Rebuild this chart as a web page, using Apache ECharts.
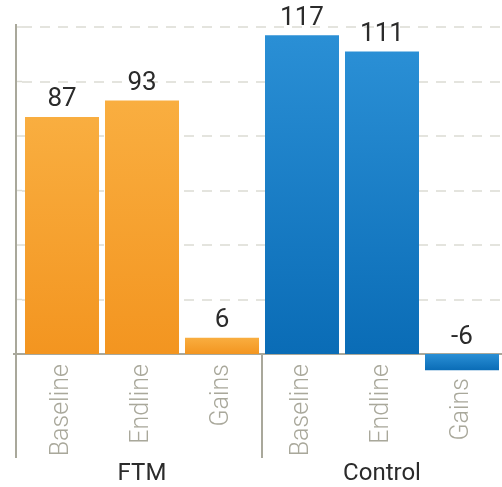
<!DOCTYPE html>
<html><head><meta charset="utf-8">
<script src="https://cdn.jsdelivr.net/npm/echarts@6/dist/echarts.min.js"></script>
<style>html,body{margin:0;padding:0;background:#fff}#c{width:502px;height:487px}</style>
</head><body><div id="c"></div>
<script>
const categories = ['Baseline','Endline','Gains','Baseline','Endline','Gains'];
const groups = ['FTM','Control'];
const ftmValues = [87, 93, 6];
const controlValues = [117, 111, -6];
const yTicks = {min: 0, max: 120, interval: 20};

const gray = '#a9a89b';
const font = 'Roboto';
const chart = echarts.init(document.getElementById('c'));
const allValues = ftmValues.concat(controlValues);
const ftmData = ftmValues.concat(controlValues.map(() => '-'));
const ctlData = ftmValues.map(() => '-').concat(controlValues);
const lbl = {show: true, position: 'top', distance: 4, color: '#2b2b2b', fontSize: 26, fontFamily: font};
const grid = {left: 22, right: 0, top: 27, bottom: 133, containLabel: false};
const plotH = 487 - grid.top - grid.bottom;
const pxPerUnit = plotH / (yTicks.max - yTicks.min);
const labelMargin = 10;
const negPad = Math.max(0, Math.round(-Math.min(...allValues) * pxPerUnit) + 8 - labelMargin);
chart.setOption({
  animation: false,
  grid: grid,
  xAxis: [{
    type: 'category', data: categories, position: 'bottom',
    axisLine: {lineStyle: {color: gray, width: 2}},
    axisTick: {show: false},
    axisLabel: {
      rotate: 90, margin: labelMargin, color: gray, fontSize: 25, fontFamily: font, fontWeight: 300,
      formatter: function (v, i) {
        return allValues[i] < 0 ? '{n|' + v + '}' : v;
      },
      rich: {n: {padding: [0, negPad, 0, 0], color: gray, fontSize: 25, fontFamily: font, fontWeight: 300}}
    }
  }, {
    type: 'category', data: groups, position: 'bottom', offset: 108,
    axisLine: {show: false}, axisTick: {show: false},
    axisLabel: {margin: 0, color: '#2b2b2b', fontSize: 24, fontFamily: font}
  }],
  yAxis: {
    type: 'value', min: yTicks.min, max: yTicks.max, interval: yTicks.interval,
    axisLine: {show: false}, axisTick: {show: false}, axisLabel: {show: false},
    splitLine: {lineStyle: {color: '#dcdcd4', width: 1.5, type: [10, 8]}}
  },
  series: [{
    type: 'bar', data: ftmData, barWidth: 74, barGap: '-100%', clip: false, label: lbl,
    itemStyle: {color: new echarts.graphic.LinearGradient(0,0,0,1,[{offset:0,color:'#f9ae40'},{offset:1,color:'#f39520'}])}
  }, {
    type: 'bar', data: ctlData, barWidth: 74, barGap: '-100%', clip: false, label: lbl,
    itemStyle: {color: new echarts.graphic.LinearGradient(0,0,0,1,[{offset:0,color:'#2a8fd5'},{offset:1,color:'#0a6cb6'}])}
  }]
});
const p0 = chart.convertToPixel({gridIndex: 0}, [0, 0]);
const pTop = chart.convertToPixel({gridIndex: 0}, [0, yTicks.max]);
const pA = chart.convertToPixel({gridIndex: 0}, [2, 0]);
const pB = chart.convertToPixel({gridIndex: 0}, [3, 0]);
const yAxisX = grid.left - 6;
const bottomY = 458;
const gridLines = [];
for (let v = yTicks.min + yTicks.interval; v <= yTicks.max; v += yTicks.interval) {
  const py = chart.convertToPixel({gridIndex: 0}, [0, v])[1];
  gridLines.push({type: 'line', shape: {x1: yAxisX, y1: py, x2: grid.left, y2: py}, style: {stroke: '#dcdcd4', lineWidth: 1.5, lineDash: [6, 8]}});
}
chart.setOption({graphic: gridLines.concat([
  {type: 'line', shape: {x1: yAxisX, y1: pTop[1] - 3, x2: yAxisX, y2: bottomY}, style: {stroke: gray, lineWidth: 2}},
  {type: 'line', shape: {x1: yAxisX - 3, y1: p0[1], x2: grid.left, y2: p0[1]}, style: {stroke: gray, lineWidth: 2}},
  {type: 'line', shape: {x1: (pA[0]+pB[0])/2, y1: p0[1], x2: (pA[0]+pB[0])/2, y2: bottomY}, style: {stroke: gray, lineWidth: 2}}
])});
</script></body></html>
